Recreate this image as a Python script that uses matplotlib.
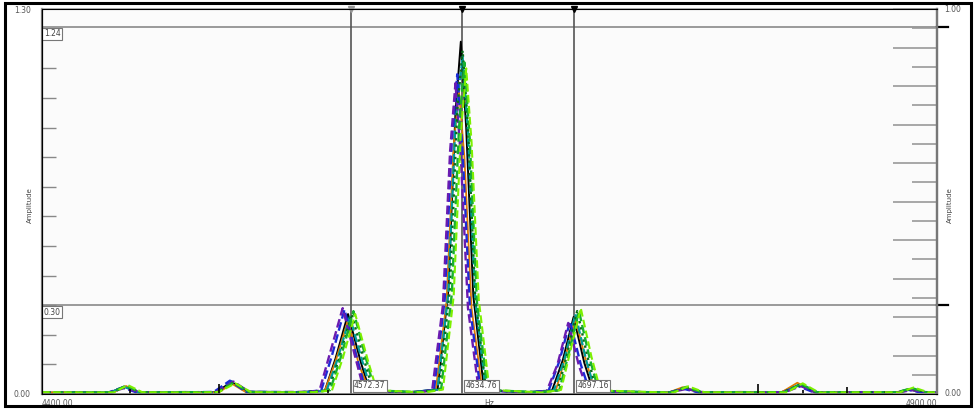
import matplotlib
matplotlib.use("Agg")
import matplotlib.pyplot as plt
from matplotlib.patches import Rectangle
from matplotlib.ticker import MultipleLocator, NullFormatter

# spectrum traces (frequency in Hz, amplitude)
f_black = [4400, 4420, 4438, 4446, 4454, 4480, 4497, 4506, 4515, 4540, 4558, 4564, 4571, 4578, 4583, 4605, 4621, 4627, 4631, 4634, 4637, 4641, 4647, 4670, 4685, 4691, 4697, 4703, 4708, 4730, 4750, 4759, 4768, 4790, 4813, 4823, 4833, 4860, 4877, 4885, 4893, 4900]
a_black = [0.004, 0.006, 0.005, 0.025, 0.006, 0.007, 0.006, 0.040, 0.008, 0.006, 0.010, 0.120, 0.270, 0.110, 0.012, 0.006, 0.015, 0.35, 0.95, 1.19, 0.90, 0.33, 0.014, 0.006, 0.012, 0.115, 0.260, 0.105, 0.010, 0.006, 0.005, 0.020, 0.006, 0.007, 0.006, 0.030, 0.005, 0.006, 0.005, 0.015, 0.004, 0.005]

f_orange = [4400, 4435, 4440, 4447, 4454, 4487, 4499, 4506, 4514, 4549, 4558, 4564, 4571, 4577, 4583, 4611, 4620, 4626, 4630, 4633, 4636, 4640, 4646, 4677, 4687, 4692, 4698, 4704, 4709, 4741, 4750, 4758, 4767, 4803, 4813, 4822, 4832, 4867, 4877, 4884, 4893, 4900]
a_orange = [0.005, 0.006, 0.006, 0.027, 0.005, 0.005, 0.006, 0.035, 0.006, 0.007, 0.010, 0.11, 0.25, 0.10, 0.010, 0.006, 0.013, 0.31, 0.84, 1.02, 0.80, 0.29, 0.011, 0.006, 0.011, 0.115, 0.255, 0.11, 0.010, 0.005, 0.005, 0.023, 0.005, 0.006, 0.005, 0.038, 0.005, 0.006, 0.005, 0.016, 0.006, 0.005]

f_teal = [4400, 4426, 4438, 4446, 4454, 4484, 4497, 4506, 4515, 4546, 4559, 4565, 4572, 4579, 4584, 4606, 4621, 4627, 4631, 4635, 4638, 4642, 4648, 4674, 4686, 4692, 4698, 4704, 4709, 4738, 4751, 4759, 4768, 4798, 4814, 4823, 4832, 4862, 4877, 4885, 4893, 4900]
a_teal = [0.005, 0.006, 0.005, 0.024, 0.005, 0.006, 0.005, 0.043, 0.007, 0.006, 0.011, 0.115, 0.26, 0.11, 0.011, 0.006, 0.015, 0.34, 0.92, 1.14, 0.88, 0.32, 0.012, 0.006, 0.012, 0.12, 0.27, 0.115, 0.010, 0.006, 0.005, 0.021, 0.006, 0.006, 0.005, 0.031, 0.006, 0.005, 0.005, 0.017, 0.005, 0.005]

f_blue = [4400, 4425, 4437, 4445, 4453, 4485, 4496, 4505, 4514, 4545, 4556, 4562, 4569, 4576, 4581, 4608, 4619, 4625, 4629, 4632, 4635, 4639, 4645, 4672, 4683, 4689, 4695, 4701, 4706, 4740, 4750, 4758, 4767, 4800, 4814, 4822, 4831, 4865, 4878, 4884, 4891, 4900]
a_blue = [0.005, 0.006, 0.005, 0.022, 0.005, 0.006, 0.007, 0.045, 0.007, 0.006, 0.012, 0.13, 0.285, 0.12, 0.010, 0.006, 0.014, 0.32, 0.86, 1.08, 0.82, 0.30, 0.012, 0.006, 0.011, 0.11, 0.245, 0.10, 0.009, 0.006, 0.004, 0.018, 0.005, 0.006, 0.005, 0.028, 0.006, 0.005, 0.004, 0.014, 0.005, 0.004]

f_purple = [4400, 4430, 4438, 4446, 4455, 4488, 4497, 4507, 4516, 4548, 4555, 4561, 4568, 4575, 4580, 4610, 4618, 4624, 4628, 4631, 4634, 4638, 4644, 4675, 4682, 4688, 4694, 4700, 4705, 4745, 4751, 4760, 4769, 4805, 4815, 4824, 4832, 4868, 4879, 4886, 4894, 4900]
a_purple = [0.004, 0.005, 0.006, 0.020, 0.006, 0.005, 0.006, 0.042, 0.006, 0.007, 0.011, 0.14, 0.29, 0.125, 0.011, 0.005, 0.013, 0.30, 0.82, 1.05, 0.80, 0.29, 0.013, 0.005, 0.010, 0.10, 0.24, 0.095, 0.010, 0.005, 0.006, 0.017, 0.006, 0.005, 0.006, 0.027, 0.005, 0.006, 0.006, 0.013, 0.006, 0.005]

f_dkgreen = [4400, 4422, 4439, 4447, 4455, 4482, 4498, 4507, 4516, 4543, 4560, 4566, 4573, 4580, 4585, 4609, 4622, 4628, 4632, 4635, 4638, 4642, 4648, 4676, 4688, 4693, 4699, 4705, 4710, 4735, 4752, 4760, 4769, 4795, 4814, 4824, 4833, 4864, 4878, 4886, 4894, 4900]
a_dkgreen = [0.004, 0.005, 0.005, 0.026, 0.006, 0.006, 0.006, 0.039, 0.006, 0.005, 0.012, 0.12, 0.27, 0.115, 0.012, 0.005, 0.016, 0.36, 0.96, 1.16, 0.90, 0.33, 0.013, 0.005, 0.012, 0.125, 0.28, 0.12, 0.010, 0.005, 0.006, 0.022, 0.005, 0.005, 0.006, 0.032, 0.006, 0.006, 0.005, 0.018, 0.006, 0.004]

f_green = [4400, 4428, 4439, 4447, 4455, 4486, 4498, 4507, 4516, 4550, 4561, 4567, 4574, 4581, 4586, 4612, 4623, 4629, 4633, 4636, 4639, 4643, 4649, 4678, 4689, 4694, 4700, 4706, 4711, 4742, 4752, 4760, 4769, 4802, 4815, 4824, 4833, 4866, 4878, 4886, 4894, 4900]
a_green = [0.005, 0.005, 0.006, 0.028, 0.005, 0.006, 0.006, 0.038, 0.006, 0.005, 0.013, 0.125, 0.28, 0.12, 0.012, 0.006, 0.016, 0.34, 0.90, 1.12, 0.86, 0.31, 0.013, 0.006, 0.013, 0.13, 0.28, 0.12, 0.011, 0.005, 0.006, 0.024, 0.005, 0.006, 0.006, 0.034, 0.006, 0.005, 0.006, 0.020, 0.005, 0.006]

f_lime = [4400, 4432, 4440, 4448, 4456, 4490, 4499, 4508, 4517, 4552, 4562, 4568, 4575, 4582, 4587, 4614, 4624, 4630, 4634, 4637, 4640, 4644, 4650, 4680, 4690, 4695, 4701, 4707, 4712, 4744, 4753, 4761, 4770, 4806, 4816, 4825, 4834, 4870, 4879, 4887, 4895, 4900]
a_lime = [0.006, 0.005, 0.005, 0.030, 0.006, 0.005, 0.007, 0.036, 0.006, 0.006, 0.012, 0.12, 0.27, 0.115, 0.013, 0.005, 0.015, 0.33, 0.88, 1.10, 0.85, 0.32, 0.014, 0.005, 0.014, 0.14, 0.29, 0.125, 0.012, 0.006, 0.005, 0.026, 0.006, 0.005, 0.005, 0.036, 0.005, 0.006, 0.005, 0.022, 0.006, 0.005]

# cursors and level markers
cursor_freqs = [4572.37, 4634.76, 4697.16]
cursor_labels = ["4572.37", "4634.76", "4697.16"]
level_values = [1.24, 0.30]
level_labels = ["1.24", "0.30"]

# small black event ticks on the baseline
event_freqs = [4449, 4499, 4560, 4800, 4825, 4850]
event_heights = [0.018, 0.035, 0.012, 0.035, 0.015, 0.025]

fig = plt.figure(figsize=(9.76, 4.09), dpi=100)
fig.patch.set_facecolor("white")
ax = fig.add_axes([0.043, 0.0367, 0.917, 0.941])
ax.set_facecolor("#fbfbfb")

traces = [
    (f_black, a_black, "black", "-", 1.4),
    (f_orange, a_orange, "#e07b00", "-", 1.3),
    (f_teal, a_teal, "#009c9c", "--", 1.6),
    (f_blue, a_blue, "#1a2bd6", "--", 1.7),
    (f_purple, a_purple, "#6a1bb0", "--", 1.7),
    (f_dkgreen, a_dkgreen, "#0b6b1a", ":", 1.7),
    (f_green, a_green, "#18b030", "--", 1.7),
    (f_lime, a_lime, "#7cf000", "--", 1.5),
]
for fx, ay, col, ls, lw in traces:
    ax.plot(fx, ay, color=col, linestyle=ls, linewidth=lw)

ax.vlines(event_freqs, 0, event_heights, color="black", linewidth=1.2)

ax.set_xlim(4400, 4900)
ax.set_ylim(0, 1.30)

for v, lab in zip(level_values, level_labels):
    ax.axhline(v, color="#8a8a8a", linewidth=1.2, zorder=1)
    ax.text(4401, v - 0.008, lab, fontsize=5.5, color="#444", va="top", ha="left",
            bbox=dict(boxstyle="square,pad=0.2", fc="white", ec="#777", lw=0.8))
    ax.plot([1.0, 1.012], [v / 1.30, v / 1.30], transform=ax.transAxes,
            color="black", linewidth=1.6, clip_on=False)

for i, (fq, lab) in enumerate(zip(cursor_freqs, cursor_labels)):
    ax.axvline(fq, color="#555555", linewidth=1.2, zorder=1)
    ax.plot(fq, 1.30, marker="v", markersize=5, color="#999" if i == 0 else "black",
            clip_on=False, zorder=5)
    ax.text(fq + 2, 0.012, lab, fontsize=5.5, color="#444", va="bottom", ha="left",
            bbox=dict(boxstyle="square,pad=0.2", fc="white", ec="#777", lw=0.8))

# axis styling
for side in ["left", "right"]:
    ax.spines[side].set_color("#777777")
    ax.spines[side].set_linewidth(1.6)
ax.spines["top"].set_color("#aaaaaa")
ax.spines["top"].set_linewidth(1.2)
ax.spines["bottom"].set_color("#777777")
ax.spines["bottom"].set_linewidth(1.2)

ax.yaxis.set_minor_locator(MultipleLocator(0.1))
ax.yaxis.set_minor_formatter(NullFormatter())
ax.set_yticks([0, 1.30])
ax.set_yticklabels(["0.00", "1.30"])
ax.tick_params(axis="y", which="major", direction="in", length=0, labelsize=5.5,
               labelcolor="#555", pad=8)
ax.tick_params(axis="y", which="minor", direction="in", length=10, color="#888", width=1)
ax.set_xticks([])

ax2 = ax.twinx()
ax2.set_ylim(0, 1.0)
ax2.spines["right"].set_color("#777777")
ax2.spines["right"].set_linewidth(1.6)
ax2.yaxis.set_major_locator(MultipleLocator(0.1))
ax2.yaxis.set_minor_locator(MultipleLocator(0.05))
ax2.yaxis.set_major_formatter(NullFormatter())
ax2.yaxis.set_minor_formatter(NullFormatter())
ax2.tick_params(axis="y", which="major", direction="in", length=32, color="#999", width=1.2)
ax2.tick_params(axis="y", which="minor", direction="in", length=18, color="#999", width=1.2)
ax2.text(1.008, 1.0, "1.00", transform=ax2.transAxes, fontsize=5.5, color="#555",
         va="center", ha="left")
ax2.text(1.008, 0.0, "0.00", transform=ax2.transAxes, fontsize=5.5, color="#555",
         va="center", ha="left")

# y titles sit close to the spines in the original
fig.text(30 / 976, 1 - 205 / 409, "Amplitude", rotation=90, fontsize=5, color="#444",
         ha="center", va="center")
fig.text(950 / 976, 1 - 205 / 409, "Amplitude", rotation=90, fontsize=5, color="#444",
         ha="center", va="center")

ax.text(0.0, -0.012, "4400.00", transform=ax.transAxes, fontsize=5.5, color="#555",
        va="top", ha="left")
ax.text(1.0, -0.012, "4900.00", transform=ax.transAxes, fontsize=5.5, color="#555",
        va="top", ha="right")
ax.text(0.5, -0.012, "Hz", transform=ax.transAxes, fontsize=5.5, color="#555",
        va="top", ha="center")

# outer frame of the screenshot
fig.patches.append(Rectangle((5 / 976, 3 / 409), 966 / 976, 403 / 409,
                             transform=fig.transFigure, fill=False,
                             edgecolor="black", linewidth=2.2))

fig.savefig("out.png", dpi=100)
